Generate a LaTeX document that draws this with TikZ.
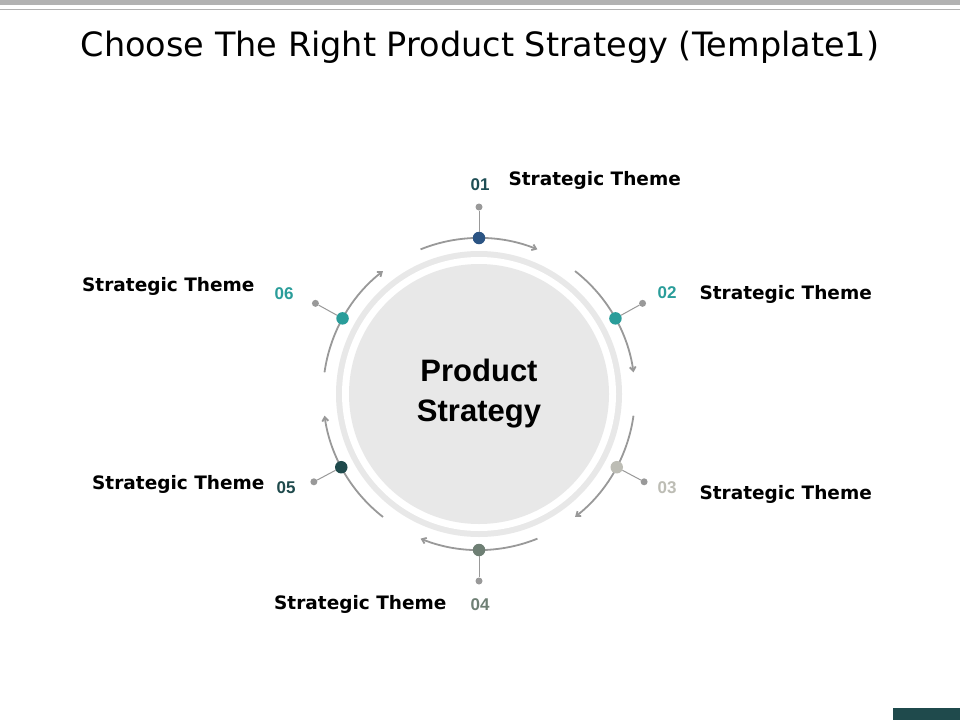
\documentclass[tikz,border=0pt]{standalone}
\usepackage{fontspec}
\setmainfont{DejaVu Sans}
\newfontfamily\arialf{Liberation Sans}
\usetikzlibrary{arrows.meta}
\definecolor{cA}{HTML}{2B5483}
\definecolor{cAt}{HTML}{1F4E55}
\definecolor{cB}{HTML}{2A9D9A}
\definecolor{cC}{HTML}{BDBDB5}
\definecolor{cD}{HTML}{6E7F74}
\definecolor{cE}{HTML}{1F4A4C}
\definecolor{arcc}{HTML}{999999}
\begin{document}
\begin{tikzpicture}[x=1pt,y=-1pt,
  arcline/.style={arcc,line width=1.8pt,-{Straight Barb[length=4pt,width=6pt]}},
  bigdot/.style={circle,minimum size=12.5pt,inner sep=0},
  smalldot/.style={circle,fill=arcc,minimum size=7pt,inner sep=0},
  lab/.style={font=\bfseries\fontsize{18.5}{22}\selectfont,text=black},
  num/.style={font=\arialf\fontsize{17}{20}\selectfont\bfseries}]
\useasboundingbox (0,0) rectangle (960,720);
\fill[white] (0,0) rectangle (960,720);
\fill[black!30] (0,0) rectangle (960,5);
\draw[black!30,line width=0.8pt] (0,9) -- (960,9);
\fill[cE] (893,708) rectangle (960,720);
\node[font=\fontsize{33.5}{40}\selectfont] (title) at (480,47) {Choose The Right Product Strategy (Template1)};
\coordinate (c) at (479,394);
\fill[black!9] (c) circle (143);
\fill[white] (c) circle (137);
\fill[black!9] (c) circle (130);
\node[font=\arialf\bfseries\fontsize{31}{40}\selectfont,align=center] (ps) at (c) {Product\\Strategy};
\foreach \a in {90,30,-30,-90,-150,150}{
  \draw[arcline] ([shift={(-\a-22:156)}]c) arc[start angle=-\a-22,end angle=-\a+22,radius=156];
}
\foreach \a/\col/\i in {90/cA/1,29/cB/2,-28/cC/3,-90/cD/4,-152/cE/5,151/cB/6}{
  \node[smalldot] (s\i) at ([shift={(-\a:187)}]c) {};
  \node[bigdot,fill=\col] (d\i) at ([shift={(-\a:156)}]c) {};
  \draw[arcc,line width=1pt] (d\i) -- (s\i);
}
\node[num,text=cAt] (n1) at (480,185) {01};
\node[num,text=cB] (n2) at (667,293) {02};
\node[num,text=cC] (n3) at (667,488) {03};
\node[num,text=cD] (n4) at (480,605) {04};
\node[num,text=cE] (n5) at (286,488) {05};
\node[num,text=cB] (n6) at (284,294) {06};
\node[lab,anchor=west] (t1) at (505,180) {Strategic Theme};
\node[lab,anchor=west] (t2) at (696,294) {Strategic Theme};
\node[lab,anchor=west] (t3) at (696,494) {Strategic Theme};
\node[lab,anchor=east] (t4) at (450,604) {Strategic Theme};
\node[lab,anchor=east] (t5) at (268,484) {Strategic Theme};
\node[lab,anchor=east] (t6) at (258,286) {Strategic Theme};
\end{tikzpicture}
\end{document}
